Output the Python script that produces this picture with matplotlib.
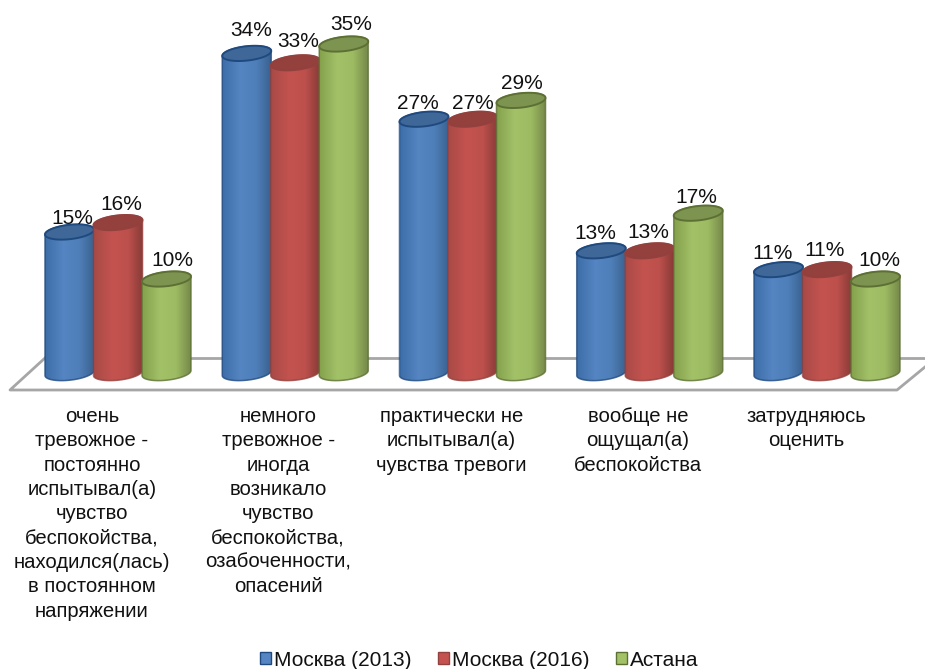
import matplotlib
matplotlib.use('Agg')
import matplotlib.pyplot as plt
import numpy as np
from matplotlib.colors import LinearSegmentedColormap
from matplotlib.patches import PathPatch, Patch
from matplotlib.path import Path

plt.rcParams['font.family'] = ['Liberation Sans', 'DejaVu Sans']

categories = [
    'очень\nтревожное -\nпостоянно\nиспытывал(а)\nчувство\nбеспокойства,\nнаходился(лась)\nв постоянном\nнапряжении',
    'немного\nтревожное -\nиногда\nвозникало\nчувство\nбеспокойства,\nозабоченности,\nопасений',
    'практически не\nиспытывал(а)\nчувства тревоги',
    'вообще не\nощущал(а)\nбеспокойства',
    'затрудняюсь\nоценить',
]
series_names = ['Москва (2013)', 'Москва (2016)', 'Астана']
moscow_2013 = [15, 34, 27, 13, 11]
moscow_2016 = [16, 33, 27, 13, 11]
astana = [10, 35, 29, 17, 10]

# pixel layout of the picture
W, H = 925, 669
BASE = 373
PX_PER_PCT = 9.4
X0 = 118
GROUP = 177.25
OFFSET = 48.5 / GROUP
HALF_W = 24.5 / GROUP
ELL_B = 7.2 / PX_PER_PCT
ELL_TILT = 2.5 / PX_PER_PCT

# left, light, mid, right shades, then top and edge colour
styles = [
    (['#3d6ea8', '#5585c2', '#4f7fb9', '#3a6290'], '#3f6797', '#1f4a80'),
    (['#a84a47', '#c4534f', '#bd504c', '#883b38'], '#94403d', '#93413e'),
    (['#84a04c', '#a3c268', '#9dbb62', '#76894a'], '#7d9350', '#5d7034'),
]


def px_x(px):
    return (px - X0) / GROUP


def px_y(py):
    return (BASE - py) / PX_PER_PCT


def cylinder(ax, cx, value, shades, top_color, edge, z):
    t = np.linspace(0, np.pi, 60)
    # front of the bottom ellipse, then back up over the top one
    bx = cx - HALF_W * np.cos(t)
    by = -ELL_B * np.sin(t) - ELL_TILT * np.cos(t)
    tx = cx + HALF_W * np.cos(t)
    ty = value + ELL_B * np.sin(t) + ELL_TILT * np.cos(t)
    outline = np.column_stack([np.r_[bx, tx, bx[0]], np.r_[by, ty, by[0]]])
    body = PathPatch(Path(outline), facecolor='none', edgecolor='none', zorder=z)
    ax.add_patch(body)
    cmap = LinearSegmentedColormap.from_list(
        'c', list(zip([0, 0.38, 0.7, 1], shades)))
    im = ax.imshow(np.linspace(0, 1, 128).reshape(1, -1), cmap=cmap, aspect='auto',
                   extent=[cx - HALF_W, cx + HALF_W, -2, value + 2], zorder=z)
    im.set_clip_path(body)
    ax.add_patch(PathPatch(Path(outline), facecolor='none', edgecolor=edge, lw=1.1,
                           alpha=0.8, zorder=z + 0.1))
    # top cap
    a = np.linspace(0, 2 * np.pi, 100)
    cap = np.column_stack([cx + HALF_W * np.cos(a),
                           value + ELL_B * np.sin(a) + ELL_TILT * np.cos(a)])
    ax.add_patch(PathPatch(Path(cap), facecolor=top_color, edgecolor=edge, lw=1.4,
                           zorder=z + 0.2))


fig = plt.figure(figsize=(W / 100, H / 100), dpi=100)
ax = fig.add_axes([0, 0, 1, 1])
ax.axis('off')

# floor of the 3D plot
floor = '#a6a6a6'
ax.plot([px_x(45), px_x(10), px_x(897), px_x(925)],
        [px_y(358), px_y(390), px_y(390), px_y(367)], color=floor, lw=2, zorder=1)
ax.plot([px_x(45), px_x(925)], [px_y(358), px_y(358)], color=floor, lw=2, zorder=1)

series = [moscow_2013, moscow_2016, astana]
for s, values in enumerate(series):
    shades, top_color, edge = styles[s]
    for i, v in enumerate(values):
        cylinder(ax, i + (s - 1) * OFFSET, v, shades, top_color, edge, 3 + s)

# data labels are nudged off the bars, as in the original (dx px, dy px from cap centre)
label_nudge = [
    [(3, -14), (3, -18), (6, -18)],
    [(4, -23), (3, -21), (7, -19)],
    [(-6, -16), (0, -16), (1, -17)],
    [(-6, -17), (-1, -18), (-2, -16)],
    [(-6, -16), (-2, -19), (4, -18)],
]
for s, values in enumerate(series):
    for i, v in enumerate(values):
        dx, dy = label_nudge[i][s]
        ax.text(i + (s - 1) * OFFSET + dx / GROUP, v - dy / PX_PER_PCT, f'{v}%',
                ha='center', va='center', fontsize=15, color='#111111', zorder=10)

# category captions sit left of their groups
caption_shift = [-26, -17, -21, -12, -21]
for i, label in enumerate(categories):
    ax.text(i + caption_shift[i] / GROUP, px_y(407), label, ha='center', va='top',
            fontsize=14.6, color='#111111', linespacing=1.355)

ax.set_xlim(px_x(0), px_x(W))
ax.set_ylim(px_y(H), px_y(0))

handles = [Patch(facecolor=styles[s][0][1], edgecolor=styles[s][2], lw=1)
           for s in range(3)]
fig.legend(handles, series_names, loc='center', bbox_to_anchor=(479 / W, 1 - 660 / H),
           ncol=3, frameon=False, fontsize=15, handlelength=0.55, handleheight=0.55,
           handletextpad=0.12, columnspacing=1.28, labelcolor='#111111', borderpad=0)

fig.savefig('out.png', dpi=100)
